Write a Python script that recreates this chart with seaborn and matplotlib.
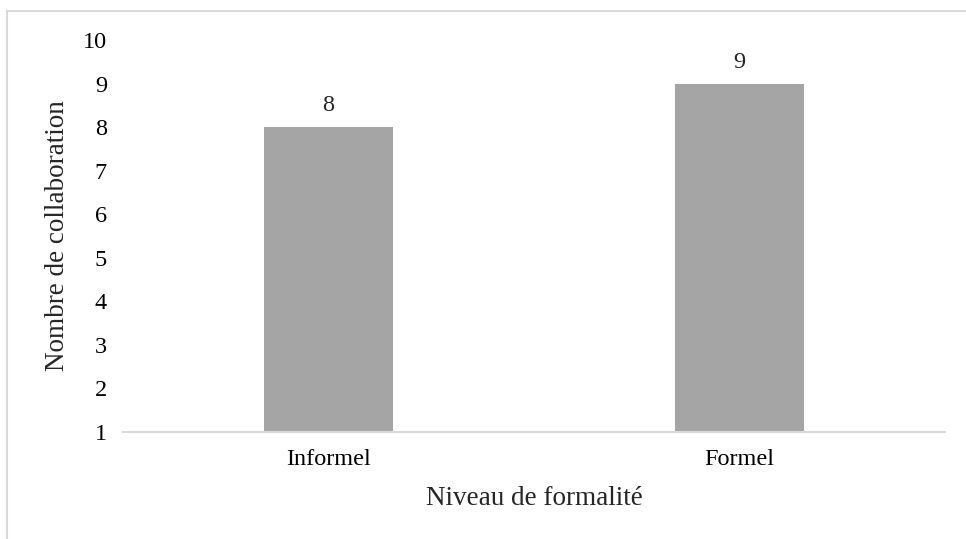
import matplotlib
matplotlib.use("Agg")
import matplotlib.pyplot as plt
import seaborn as sns
import pandas as pd
from matplotlib.patches import Rectangle

niveaux = ["Informel", "Formel"]
nombres = [8, 9]
y_ticks = list(range(1, 11))

df = pd.DataFrame({"niveau": niveaux, "nombre": nombres})

sns.set_style("white")
plt.rcParams["font.family"] = ["Liberation Serif", "DejaVu Serif"]

W, H = 966, 539
fig = plt.figure(figsize=(W / 100, H / 100), dpi=100)
ax = fig.add_axes([123 / W, 1 - 432 / H, (945 - 123) / W, (432 - 40) / H])

sns.barplot(data=df, x="niveau", y="nombre", color="#A5A5A5", width=0.314,
            saturation=1, linewidth=0, ax=ax)
ax.set_ylim(1, 10)
ax.set_xlim(-0.5, 1.5)
ax.set_yticks(y_ticks)
ax.tick_params(axis="both", length=0, labelsize=17.5, colors="black")
ax.tick_params(axis="y", pad=11.5)
ax.tick_params(axis="x", pad=12)

for s in ["top", "right", "left"]:
    ax.spines[s].set_visible(False)
ax.spines["bottom"].set_color("#D9D9D9")
ax.spines["bottom"].set_linewidth(1.5)

for i, v in enumerate(nombres):
    ax.text(i, v + 0.25, str(v), ha="center", va="bottom", fontsize=17.5)

ax.set_xlabel("Niveau de formalité", fontsize=19.5, labelpad=12)
ax.set_ylabel("Nombre de collaboration", fontsize=19.5)
ax.yaxis.set_label_coords((70 - 123) / 822, 0.5)

# cadre du graphique
fig.patches.append(Rectangle((7 / W, -0.1), 1.2, 1 - 11 / H + 0.1,
                             transform=fig.transFigure, fill=False,
                             edgecolor="#D9D9D9", linewidth=1.5))

fig.savefig("out.png", dpi=100)
